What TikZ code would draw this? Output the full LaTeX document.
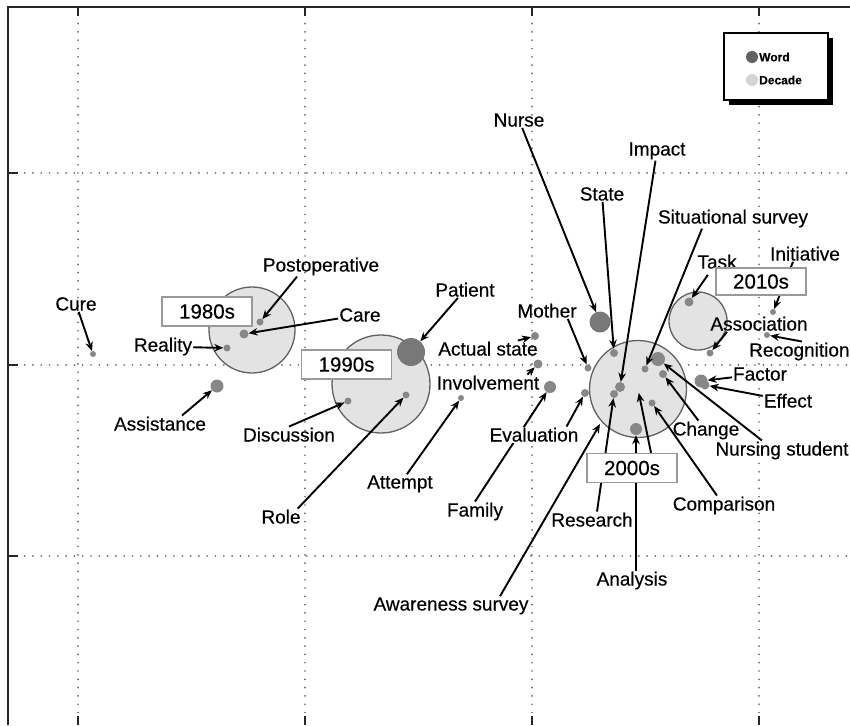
\documentclass[tikz,border=0pt]{standalone}
\usepackage{fontspec}
\setmainfont{Liberation Sans}[FakeBold=0.4]
\usetikzlibrary{arrows.meta,shadows}
\pgfdeclarelayer{back}
\pgfdeclarelayer{mid}
\pgfsetlayers{back,mid,main}
\tikzset{
  word/.style={circle,fill=black!47,inner sep=0pt,minimum size=#1},
  decade/.style={circle,fill=black!11,draw=black!62,line width=1.3pt,inner sep=0pt,minimum size=#1},
  lbl/.style={anchor=base,inner sep=1pt,font=\fontsize{19}{22}\selectfont},
  decbox/.style={draw=black!40,fill=white,line width=1.3pt,inner sep=0pt,minimum width=90pt,minimum height=29pt,font=\fontsize{20.5}{24}\selectfont},
  arr/.style={-{Stealth[length=9pt,width=7.5pt]},line width=1.9pt},
  gridline/.style={black!60,line width=1.9pt,dash pattern=on 0pt off 8.3pt,line cap=round},
  axisline/.style={black!85,line width=2pt}
}
\begin{document}
\begin{tikzpicture}[x=1pt,y=-1pt]
      \useasboundingbox (0,0) rectangle (850,725);
      \begin{pgfonlayer}{back}
        \foreach \gx in {78,305,532,759}{
          \draw[gridline] (\gx,7) -- (\gx,725);
          \draw[axisline] (\gx,7) -- (\gx,16);
          \draw[axisline] (\gx,716) -- (\gx,725);}
        \foreach \gy in {173,365,556}{
          \draw[gridline] (8,\gy) -- (850,\gy);
          \draw[axisline] (8,\gy) -- (18,\gy);}
        \draw[axisline] (8,725) -- (8,7) -- (850,7);
        \node[decade=86pt] (c1980) at (252,330) {};
        \node[decade=98pt] (c1990) at (381,384) {};
        \node[decade=97pt] (c2000) at (638,389) {};
        \node[decade=58pt] (c2010) at (698,321) {};
        \node[word=6pt] (wcure) at (93,354) {};
        \node[word=7pt] (wreal) at (227,348) {};
        \node[word=7pt] (wpost) at (260,322) {};
        \node[word=9pt] (wcare) at (244,334) {};
        \node[word=13pt] (wassist) at (217,386) {};
        \node[word=7pt] (wdisc) at (348,401) {};
        \node[word=28pt,fill=black!53] (wpatient) at (411,352) {};
        \node[word=7pt] (wrole) at (406,395) {};
        \node[word=6pt] (wattempt) at (461,398) {};
        \node[word=8pt] (wactual) at (535,336) {};
        \node[word=9pt] (winvolve) at (538,364) {};
        \node[word=7pt] (wmother) at (588,368) {};
        \node[word=8pt] (weval) at (585,393) {};
        \node[word=12pt] (wfamily) at (550,387) {};
        \node[word=21pt,fill=black!53] (wnurse) at (600,322) {};
        \node[word=8pt] (wstate) at (614,353) {};
        \node[word=10pt] (wimpact) at (620,387) {};
        \node[word=8pt] (wresearch) at (614,394) {};
        \node[word=7pt] (wsit) at (645,369) {};
        \node[word=9pt] (wtask) at (689,302) {};
        \node[word=6pt] (winit) at (773,312) {};
        \node[word=7pt] (wassoc) at (710,353) {};
        \node[word=6pt] (wrecog) at (767,335) {};
        \node[word=13pt] (wfactor) at (701,381) {};
        \node[word=9pt] (weffect) at (705,385) {};
        \node[word=14pt] (wnstud) at (658,359) {};
        \node[word=8pt] (wchange) at (663,374) {};
        \node[word=7pt] (wcomp) at (652,403) {};
        \node[word=12pt] (wanalysis) at (636,429) {};
        \coordinate (waware) at (600,424);
      \end{pgfonlayer}
      \node[lbl] (tcure) at (76,310.5) {Cure};
      \node[lbl] (treal) at (163,351.5) {Reality};
      \node[lbl] (tpost) at (321,271.5) {Postoperative};
      \node[lbl] (tcare) at (360,321.5) {Care};
      \node[lbl] (tassist) at (160,430.5) {Assistance};
      \node[lbl] (tdisc) at (289,441.5) {Discussion};
      \node[lbl] (tpatient) at (465,296.5) {Patient};
      \node[lbl] (trole) at (281,523.5) {Role};
      \node[lbl] (tattempt) at (400,488.5) {Attempt};
      \node[lbl] (tactual) at (488,355.5) {Actual state};
      \node[lbl] (tinvolve) at (488,389.5) {Involvement};
      \node[lbl] (tmother) at (547,317.5) {Mother};
      \node[lbl,fill=white] (teval) at (534,441.5) {Evaluation};
      \node[lbl] (tfamily) at (475,516.5) {Family};
      \node[lbl] (tnurse) at (519,126.5) {Nurse};
      \node[lbl] (tstate) at (602,200.5) {State};
      \node[lbl] (timpact) at (657,155.5) {Impact};
      \node[lbl] (tsit) at (733,223.5) {Situational survey};
      \node[lbl] (ttask) at (717,268.5) {Task};
      \node[lbl] (tinit) at (805,260.5) {Initiative};
      \node[lbl] (tassoc) at (759,330.5) {Association};
      \node[lbl,anchor=base west] (trecog) at (748,356.5) {Recognition};
      \node[lbl] (tfactor) at (760,380.5) {Factor};
      \node[lbl] (teffect) at (788,407.5) {Effect};
      \node[lbl] (tchange) at (706,435.5) {Change};
      \node[lbl] (tnstud) at (782,455.5) {Nursing student};
      \node[lbl] (tcomp) at (724,510.5) {Comparison};
      \node[lbl] (tresearch) at (592,526.5) {Research};
      \node[lbl] (tanalysis) at (632,585.5) {Analysis};
      \node[lbl] (taware) at (451,610.5) {Awareness survey};
      \node[decbox] (b1980) at (207,311.5) {1980s};
      \node[decbox] (b1990) at (346.5,364.5) {1990s};
      \node[decbox] (b2000) at (632,468) {2000s};
      \node[decbox,minimum height=27pt] (b2010) at (761,281.5) {2010s};
      \node[draw=black,line width=2pt,fill=white,minimum width=104pt,minimum height=66pt,
        drop shadow={shadow xshift=5pt,shadow yshift=-5pt,fill=black,opacity=1}] (legend) at (775.5,66.5) {};
      \node[word=12pt,fill=black!62] (lgword) at (752,57) {};
      \node[anchor=west,inner sep=0pt,font=\bfseries\fontsize{12}{14}\selectfont] (lgwordt) at (759,57) {Word};
      \node[word=12pt,fill=black!17] (lgdec) at (752,80) {};
      \node[anchor=west,inner sep=0pt,font=\bfseries\fontsize{12}{14}\selectfont] (lgdect) at (759,80) {Decade};
      \begin{pgfonlayer}{mid}
        \draw[arr] (tcure) -- (wcure);
        \draw[arr] (treal) -- (wreal);
        \draw[arr] ([xshift=-24pt]tpost.south) -- (wpost);
        \draw[arr] (tcare) -- (wcare);
        \draw[arr] ([xshift=22pt]tassist.north) -- (wassist);
        \draw[arr] (tdisc.north) -- (wdisc);
        \draw[arr] (tpatient) -- (wpatient);
        \draw[arr] ([xshift=-4pt]trole.north east) -- (wrole);
        \draw[arr] (tattempt) -- (wattempt);
        \draw[arr] ([xshift=-21pt]tactual.north east) -- (wactual);
        \draw[arr] ([xshift=-13pt]tinvolve.north east) -- (winvolve);
        \draw[arr] ([xshift=-10pt]tmother.south east) -- (wmother);
        \draw[arr] ([xshift=-13pt]teval.north east) -- (weval);
        \draw[arr] (tfamily.north) -- (wfamily);
        \draw[arr] (tnurse) -- (wnurse);
        \draw[arr] (tstate) -- (wstate);
        \draw[arr] (timpact) -- (wimpact);
        \draw[arr] ([xshift=-31pt]tsit.south) -- (wsit);
        \draw[arr,shorten <=6pt] (ttask) -- (wtask);
        \draw[arr] ([xshift=-12pt]tinit.south) -- (winit);
        \draw[arr] ([xshift=-32pt]tassoc.south) -- (wassoc);
        \draw[arr] ([xshift=54pt]trecog.north west) -- (wrecog);
        \draw[arr] (tfactor) -- (wfactor);
        \draw[arr] (teffect) -- (weffect);
        \draw[arr] (tchange) -- (wchange);
        \draw[arr] ([xshift=-20pt]tnstud.north) -- (wnstud);
        \draw[arr] (tcomp) -- (wcomp);
        \draw[arr] ([xshift=5pt]tresearch.north) -- (wresearch);
        \draw[arr] ([xshift=4pt]tanalysis.north) -- (wanalysis);
        \draw[arr] ([xshift=49pt]taware.north) -- (waware);
        \draw[arr,shorten >=4pt] ([xshift=19pt]b2000.north) -- (c2000.center);
      \end{pgfonlayer}
    \end{tikzpicture}
\end{document}
